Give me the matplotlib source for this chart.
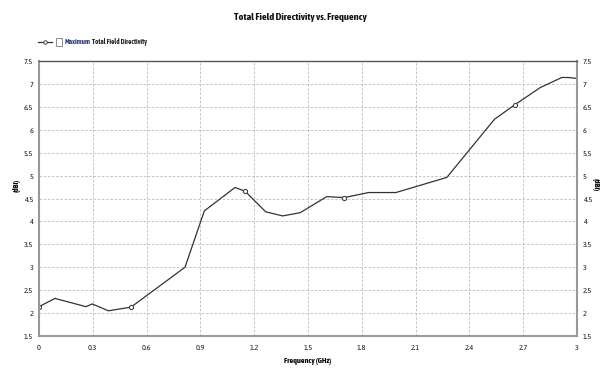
import matplotlib
matplotlib.use("Agg")
import matplotlib.pyplot as plt
from matplotlib import font_manager
import matplotlib.patheffects as pe

entries = font_manager.fontManager.ttflist
narrow_all = sorted({f.name for f in entries if ("Narrow" in f.name or "Condensed" in f.name)})
narrow_bold = sorted({f.name for f in entries
                      if ("Narrow" in f.name or "Condensed" in f.name)
                      and (f.weight == "bold" or (isinstance(f.weight, int) and f.weight >= 600))})
choice = (narrow_bold or narrow_all)[:1]
has_bold = bool(narrow_bold) or not choice
plt.rcParams["font.family"] = choice + ["Liberation Sans", "DejaVu Sans"]

def bold_fx(color, w=0.55):
    return [] if has_bold else [pe.withStroke(linewidth=w, foreground=color)]

freq = [0.0, 0.089, 0.262, 0.297, 0.387, 0.513, 0.814, 0.922, 1.093, 1.149,
        1.264, 1.359, 1.456, 1.604, 1.703, 1.837, 1.99, 2.274, 2.54, 2.655,
        2.795, 2.915, 2.952, 3.0]
directivity = [2.14, 2.32, 2.14, 2.20, 2.05, 2.13, 3.0, 4.23, 4.74, 4.66,
               4.21, 4.12, 4.19, 4.54, 4.52, 4.63, 4.63, 4.96, 6.23, 6.55,
               6.92, 7.14, 7.14, 7.12]
marker_idx = [0, 5, 9, 14, 19]
xticks = [0, 0.3, 0.6, 0.9, 1.2, 1.5, 1.8, 2.1, 2.4, 2.7, 3]
xticklabels = ["0", "0.3", "0.6", "0.9", "1.2", "1.5", "1.8", "2.1", "2.4", "2.7", "3"]
yticks = [1.5, 2, 2.5, 3, 3.5, 4, 4.5, 5, 5.5, 6, 6.5, 7, 7.5]
yticklabels = ["1.5", "2", "2.5", "3", "3.5", "4", "4.5", "5", "5.5", "6", "6.5", "7", "7.5"]

fig = plt.figure(figsize=(6, 3.69), dpi=100)
ax = fig.add_axes([0.065, 0.0894, 0.8967, 0.7453])
ax.plot(freq, directivity, color="#333333", lw=0.9)
ax.plot([freq[i] for i in marker_idx], [directivity[i] for i in marker_idx],
        ls="none", marker="o", ms=3, mfc="white", mec="#444444", mew=0.8)
ax.set_xlim(0, 3)
ax.set_ylim(1.5, 7.5)
ax.set_xticks(xticks)
ax.set_xticklabels(xticklabels)
ax.set_yticks(yticks)
ax.set_yticklabels(yticklabels)
ax.grid(True, color="#bbbbbb", ls=(0, (3, 2)), lw=0.6)
ax.tick_params(length=0, labelsize=6, pad=6, colors="#222222")
ax.tick_params(axis="y", labelright=True, right=False, pad=4)
for lbl in ax.get_xticklabels() + ax.get_yticklabels():
    lbl.set_path_effects(bold_fx("#222222", 0.3))
for s in ["left", "bottom", "right"]:
    ax.spines[s].set_color("#999999")
    ax.spines[s].set_linewidth(1.5)
ax.spines["top"].set_color("#555555")
ax.spines["top"].set_linewidth(1.0)

ax.set_xlabel("Frequency (GHz)", fontsize=5.8, fontweight="bold", labelpad=3,
              path_effects=bold_fx("black"))
fig.text(17/600, 1-185/369, "(dBi)", rotation=90, fontsize=5.8, fontweight="bold",
         va="center", ha="center", path_effects=bold_fx("black"))
fig.text(1.0, 1-185/369, "(dBi)", rotation=270, fontsize=5.8, fontweight="bold",
         va="center", ha="right", path_effects=bold_fx("black"))

fig.text(0.5, 1-18/369, "Total Field Directivity vs. Frequency", ha="center",
         va="center", fontsize=7.5, fontweight="bold", color="#111111",
         path_effects=bold_fx("#111111", 0.7))

# legend
ly = 1 - 42/369
fig.lines.append(plt.Line2D([38/600, 52/600], [ly, ly], color="#333333",
                            lw=0.9, transform=fig.transFigure))
fig.lines.append(plt.Line2D([45/600], [ly], ls="none", marker="o", ms=2.5,
                            mfc="white", mec="#444444", mew=0.7, transform=fig.transFigure))
fig.patches.append(plt.Rectangle((56/600, 1-46/369), 6/600, 8/369, fill=False,
                                 ec="#777777", lw=0.6, transform=fig.transFigure))
t1 = fig.text(65/600, ly, "Maximum", fontsize=5, fontweight="bold",
              color="#2a3a7a", va="center", path_effects=bold_fx("#2a3a7a", 0.45))
fig.canvas.draw()
bb = t1.get_window_extent()
fig.text(bb.x1/600 + 1.5/600, ly, "Total Field Directivity", fontsize=5,
         fontweight="bold", color="#222222", va="center",
         path_effects=bold_fx("#222222", 0.45))

fig.savefig("out.png", dpi=100)
